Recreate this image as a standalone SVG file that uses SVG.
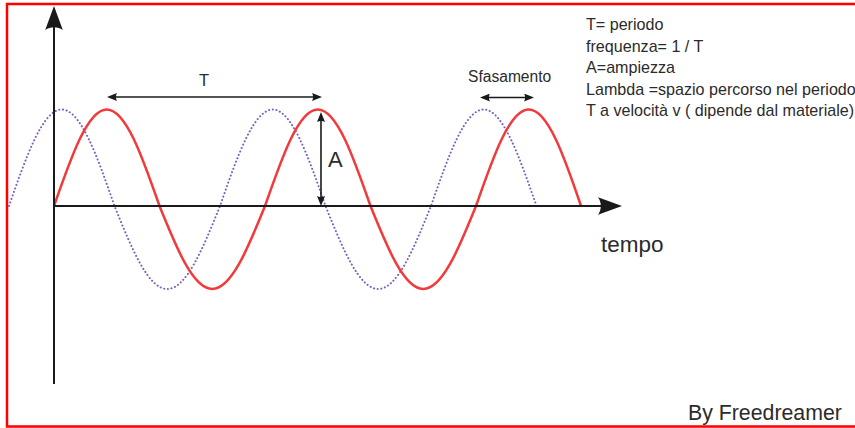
<svg xmlns="http://www.w3.org/2000/svg" width="855" height="428" viewBox="0 0 855 428">
<style>
.txt{font-family:"Liberation Sans",Arial,sans-serif;fill:#2b2b2b}
.ax{stroke:#1a1a1a;stroke-width:2;fill:none}
.dim{stroke:#1a1a1a;stroke-width:1.6;fill:none}
.red{stroke:#f23a3a;stroke-width:2.5;fill:none}
.pur{stroke:#7d5fbd;stroke-width:2;fill:none;stroke-dasharray:0.1 3.6;stroke-linecap:round}
</style>
<defs>
<marker id="big" viewBox="0 0 24 17.6" refX="21" refY="8.8" markerWidth="24" markerHeight="17.6" markerUnits="userSpaceOnUse" orient="auto">
<path d="M24,8.8 L0,0 C3.8,5.2 3.8,12.4 0,17.6 Z" fill="#1a1a1a"/>
</marker>
<marker id="sm" viewBox="0 0 10 8" refX="7" refY="4" markerWidth="10" markerHeight="8" markerUnits="userSpaceOnUse" orient="auto-start-reverse">
<path d="M10,4 L0,0 C1.5,2.3 1.5,5.7 0,8 Z" fill="#1a1a1a"/>
</marker>
</defs>
<rect x="0" y="0" width="855" height="428" fill="#fff"/>
<rect id="border" x="7" y="4" width="860" height="422.5" fill="none" stroke="#ff0000" stroke-width="2.5"/>

<g id="waves">
<path id="wave-shifted" class="pur" d="M9,206 C26.2,156.56 42.66,109.5 61.75,109.5 C80.84,109.5 97.3,156.56 114.5,206 C131.7,248.52 148.16,289 167.25,289 C186.34,289 202.8,248.52 220,206 C237.2,156.56 253.66,109.5 272.75,109.5 C291.84,109.5 308.3,156.56 325.5,206 C342.7,248.52 359.16,289 378.25,289 C397.34,289 413.8,248.52 431,206 C448.2,156.56 464.66,109.5 483.75,109.5 C502.84,109.5 519.3,156.56 536.5,206"/>
<path id="wave-main" class="red" d="M54,206 C71.2,156.56 87.66,109.5 106.75,109.5 C125.84,109.5 142.3,156.56 159.5,206 C176.7,248.52 193.16,289 212.25,289 C231.34,289 247.8,248.52 265,206 C282.2,156.56 298.66,109.5 317.75,109.5 C336.84,109.5 353.3,156.56 370.5,206 C387.7,248.52 404.16,289 423.25,289 C442.34,289 458.8,248.52 476,206 C493.2,156.56 509.66,109.5 528.75,109.5 C547.84,109.5 564.3,156.56 581,206"/>
</g>

<g id="connectors">
<path id="y-axis" class="ax" d="M54,384 L54,9" marker-end="url(#big)"/>
<path id="x-axis" class="ax" d="M54,206 L619,206" marker-end="url(#big)"/>
<path id="period-arrow" class="dim" d="M110,97 L319,97" marker-start="url(#sm)" marker-end="url(#sm)"/>
<path id="phase-arrow" class="dim" d="M483,97.5 L531,97.5" marker-start="url(#sm)" marker-end="url(#sm)"/>
<path id="amp-arrow" class="dim" d="M321,115 L321,203" marker-start="url(#sm)" marker-end="url(#sm)"/>
</g>

<g id="labels">
<text class="txt" x="204" y="86" font-size="16.5" text-anchor="middle">T</text>
<text class="txt" x="468" y="82" font-size="15.6">Sfasamento</text>
<text class="txt" x="328" y="167" font-size="22">A</text>
<text class="txt" x="601" y="252" font-size="22.5">tempo</text>
<text class="txt" x="688" y="420" font-size="21.3">By Freedreamer</text>
</g>

<g id="legend" class="txt" font-size="16.1">
<text x="586" y="30">T= periodo</text>
<text x="586" y="51.5">frequenza= 1 / T</text>
<text x="586" y="73">A=ampiezza</text>
<text x="586" y="94.5">Lambda =spazio percorso nel periodo</text>
<text x="586" y="116">T a velocità v ( dipende dal materiale)</text>
</g>
</svg>
